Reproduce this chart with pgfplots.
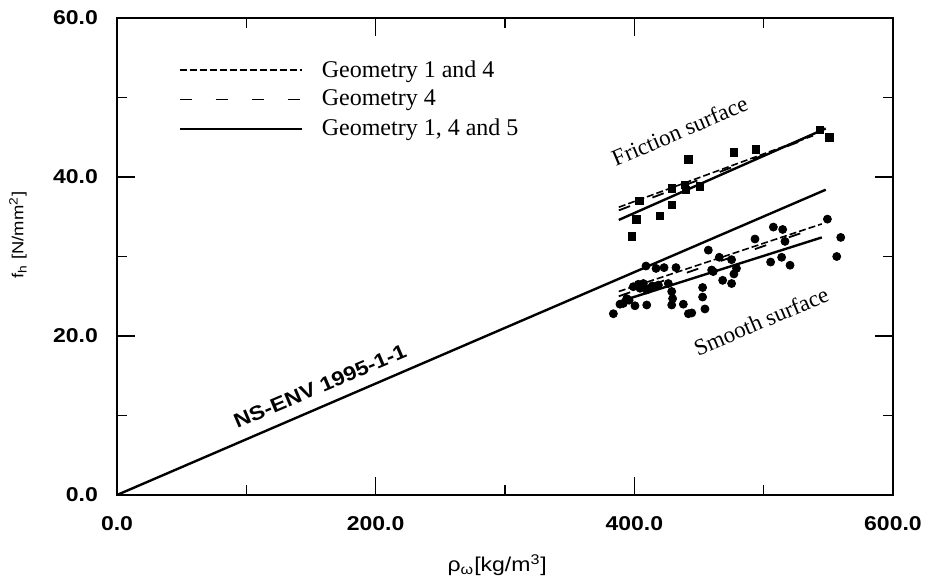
\documentclass[border=0pt]{standalone}
\usepackage{pgfplots}
\pgfplotsset{compat=1.18}
\usepackage{fontspec}
\setmainfont{Liberation Serif}
\newfontfamily\tickfont[FakeStretch=1.15]{Liberation Sans}

\begin{document}
\begin{tikzpicture}
\useasboundingbox (-58.5pt,-43pt) rectangle (407.5pt,247.5pt);
\begin{axis}[
    scale only axis,
    width=388pt, height=238.5pt,
    xmin=0, xmax=600, ymin=0, ymax=60,
    xtick={0,200,400,600}, minor xtick={100,300,500},
    ytick={0,20,40,60}, minor ytick={10,30,50},
    tick align=inside,
    major tick length=9pt, minor tick length=5pt,
    every tick/.style={black, line width=0.8pt},
    axis line style={line width=0.9pt},
    /pgf/number format/fixed,
    /pgf/number format/fixed zerofill,
    /pgf/number format/precision=1,
    /pgf/number format/assume math mode=true,
    xticklabel style={font=\tickfont\bfseries\fontsize{10}{12}\selectfont, yshift=-7pt},
    yticklabel style={font=\tickfont\bfseries\fontsize{10}{12}\selectfont, xshift=-6pt},
    xlabel={ρ\textsubscript{ω}[kg/m\textsuperscript{3}]},
    xlabel style={font=\tickfont\fontsize{10}{12}\selectfont, at={(axis description cs:0.49,0)}, anchor=center, yshift=-35pt},
    ylabel={f\textsubscript{h} [N/mm\textsuperscript{2}]},
    ylabel style={font=\tickfont\fontsize{8}{9}\selectfont, at={(axis description cs:-0.1276,0.545)}, anchor=center},
    legend image code/.code={\draw[#1] (0pt,0pt) -- (61pt,0pt);},
    legend cell align=left,
    legend style={at={(rel axis cs:0.0786,0.912)}, anchor=north west, draw=none, fill=none,
        inner sep=0pt, font=\fontsize{12}{14}\selectfont, row sep=5pt,
        nodes={inner sep=0pt}, /tikz/every odd column/.style={column sep=9.5pt}},
]

% friction surface, regression lines (legend)
\addplot[black, line width=0.8pt, dash pattern=on 3.5pt off 1.5pt] coordinates {(388,36.2) (540,45.3)};
\addlegendentry{Geometry 1 and 4}
\addplot[black, line width=0.9pt, dash pattern=on 6pt off 12pt] coordinates {(388,35.8) (530,44.6)};
\addlegendentry{Geometry 4}
\addplot[black, line width=1.2pt] coordinates {(388,34.6) (548,46.1)};
\addlegendentry{Geometry 1, 4 and 5}

% smooth surface, regression lines
\addplot[forget plot, black, line width=0.8pt, dash pattern=on 3.5pt off 1.5pt] coordinates {(388,25.6) (545,34.1)};
\addplot[forget plot, black, line width=0.9pt, dash pattern=on 6pt off 12pt] coordinates {(388,25.0) (530,33.0)};
\addplot[forget plot, black, line width=1.2pt] coordinates {(388,24.3) (545,32.4)};

% NS-ENV 1995-1-1
\addplot[forget plot, black, line width=1.2pt] coordinates {(0,0) (548,38.4)};

% friction surface tests
\addplot[forget plot, only marks, mark=square*, mark size=1.9pt, black] coordinates {
    (398,32.5) (401.8,34.7) (403.9,37.0) (419.9,35.1) (428.9,36.5) (428.9,38.6)
    (439.2,39.0) (440,38.4) (450.8,38.8) (441.8,42.2) (477,43.1) (494,43.5)
    (543.6,45.9) (550.8,45.0)
};

% smooth surface tests
\addplot[forget plot, only marks, mark=*, mark size=2pt, black] coordinates {
    (383.8,22.8) (388.9,24.0) (391.5,24.1) (394.1,24.7) (396,24.5) (399.2,26.2)
    (400.5,23.8) (403.1,26.5) (404.4,26.0) (407,26.6) (409.6,25.8) (409.6,23.9)
    (409,28.8) (412,26.0) (414,26.3) (416.8,28.5) (418.6,26.4) (423,28.6)
    (426.3,26.6) (428.9,25.6) (429.6,24.7) (428.9,23.9) (432.2,28.6) (437.9,24.0)
    (441.8,22.8) (444.4,22.9) (452.8,26.1) (452.8,24.9) (454.6,23.4) (457.2,30.8)
    (459.8,28.3) (461,28.1) (465.7,29.9) (468.3,27.0) (475.2,26.6) (475.2,29.6)
    (477,27.8) (479,28.5) (493.3,32.2) (505.4,29.3) (507.5,33.7) (513.9,29.9)
    (514.7,33.4) (516.5,31.9) (520.4,28.9) (549.3,34.7) (556.5,30.0) (559.6,32.4)
};

\node[rotate=23, font=\tickfont\bfseries\fontsize{10}{12}\selectfont] at (axis cs:157,13.7) {NS-ENV 1995-1-1};
\node[rotate=23, font=\fontsize{11.5}{13}\selectfont] at (axis cs:435,45.8) {Friction surface};
\node[rotate=23, font=\fontsize{11.5}{13}\selectfont] at (axis cs:498,21.9) {Smooth surface};
\end{axis}
\end{tikzpicture}
\end{document}
